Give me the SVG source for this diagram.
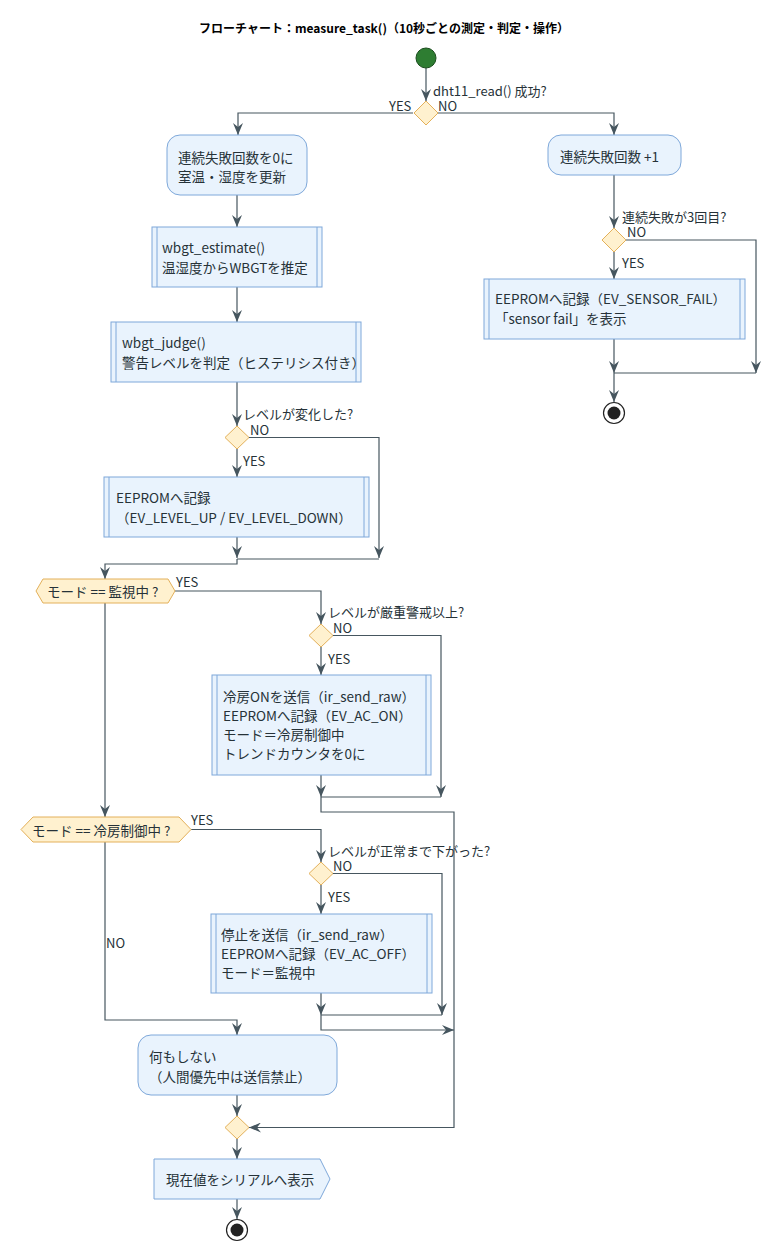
<svg xmlns="http://www.w3.org/2000/svg" width="780" height="1251" viewBox="0 0 780 1251">
<style>
text{font-family:"Noto Sans CJK JP","Noto Sans",sans-serif;font-size:13.5px;fill:#263238}
.t{font-size:12px;font-weight:bold;fill:#000}
.lbl{font-size:13px}
.box{fill:#E9F3FD;stroke:#7EA8DA;stroke-width:1}
.in{stroke:#7EA8DA;stroke-width:1}
.dia{fill:#FFF1CF;stroke:#E3B05A;stroke-width:1}
.c{fill:none;stroke:#46565F;stroke-width:1.2}
.a{fill:none;stroke:#46565F;stroke-width:1.2;marker-end:url(#ah)}
</style>
<defs>
<marker id="ah" viewBox="0 0 12 10" refX="12" refY="5" markerWidth="12" markerHeight="10" markerUnits="userSpaceOnUse" orient="auto">
<path d="M0,0 L12,5 L0,10 L4,5 Z" fill="#46565F"/>
</marker>
</defs>
<text class="t" x="384" y="33" text-anchor="middle">フローチャート：measure_task()（10秒ごとの測定・判定・操作）</text>

<g id="connectors">
<path class="a" d="M426,68 V101"/>
<path class="a" d="M413,113 H238 V135"/>
<path class="a" d="M438,113 H614 V135"/>
<path class="a" d="M237,195 V227"/>
<path class="a" d="M237,287 V322"/>
<path class="a" d="M237,382 V426"/>
<path class="a" d="M237,449 V477"/>
<path class="a" d="M249,437.5 H379 V558"/>
<path class="a" d="M237,537 V558"/>
<path class="c" d="M379,559 H237"/>
<path class="a" d="M237,559 V564 H105 V579"/>
<path class="a" d="M175,591 H321 V624"/>
<path class="a" d="M321,647 V675"/>
<path class="a" d="M333,635.5 H441 V797"/>
<path class="a" d="M321,775 V797"/>
<path class="c" d="M441,797 H321"/>
<path class="a" d="M321,797 V812 H454 V1127.5 H249"/>
<path class="a" d="M105,603 V817"/>
<path class="a" d="M191,829.5 H321 V862"/>
<path class="a" d="M321,885 V914"/>
<path class="a" d="M333,873.5 H442 V1015"/>
<path class="a" d="M321,993 V1015"/>
<path class="c" d="M442,1015 H321"/>
<path class="a" d="M321,1015 V1030 H454"/>
<path class="a" d="M105,842 V1020 H237 V1035"/>
<path class="a" d="M237,1095 V1116"/>
<path class="a" d="M237,1139 V1159"/>
<path class="a" d="M237,1199 V1219"/>
<path class="a" d="M614,175 V228"/>
<path class="a" d="M614,252 V279"/>
<path class="a" d="M626,240 H756 V373"/>
<path class="a" d="M614,339 V373"/>
<path class="c" d="M756,373 H614"/>
<path class="a" d="M614,373 V402"/>
<text class="lbl" x="433" y="96">dht11_read() 成功?</text>
<text class="lbl" x="389" y="111">YES</text>
<text class="lbl" x="438" y="111">NO</text>
<text class="lbl" x="243" y="419">レベルが変化した?</text>
<text class="lbl" x="250" y="435">NO</text>
<text class="lbl" x="243" y="466">YES</text>
<text class="lbl" x="176" y="587">YES</text>
<text class="lbl" x="328" y="617">レベルが厳重警戒以上?</text>
<text class="lbl" x="333" y="633">NO</text>
<text class="lbl" x="328" y="664">YES</text>
<text class="lbl" x="191" y="825">YES</text>
<text class="lbl" x="328" y="856">レベルが正常まで下がった?</text>
<text class="lbl" x="333" y="871">NO</text>
<text class="lbl" x="328" y="902">YES</text>
<text class="lbl" x="106" y="948">NO</text>
<text class="lbl" x="622" y="222">連続失敗が3回目?</text>
<text class="lbl" x="627" y="237">NO</text>
<text class="lbl" x="622" y="268">YES</text>
</g>

<g id="start"><circle cx="426" cy="58" r="10" fill="#2E7D32" stroke="#1B4D1E" stroke-width="1"/></g>
<g id="d1"><polygon class="dia" points="426,101 438,113 426,125 414,113"/></g>
<g id="box1"><rect class="box" x="167" y="135" width="140" height="60" rx="13"/>
<text x="178" y="163">連続失敗回数を0に</text><text x="178" y="182">室温・湿度を更新</text></g>
<g id="box_fail"><rect class="box" x="548" y="135" width="133" height="40" rx="13"/>
<text x="560" y="162">連続失敗回数 +1</text></g>
<g id="box2"><rect class="box" x="152" y="227" width="170" height="60"/>
<line class="in" x1="157" y1="227" x2="157" y2="287"/><line class="in" x1="317" y1="227" x2="317" y2="287"/>
<text x="162" y="253">wbgt_estimate()</text><text x="162" y="273">温湿度からWBGTを推定</text></g>
<g id="box3"><rect class="box" x="111" y="322" width="250" height="60"/>
<line class="in" x1="116" y1="322" x2="116" y2="382"/><line class="in" x1="356" y1="322" x2="356" y2="382"/>
<text x="122" y="348">wbgt_judge()</text><text x="122" y="368">警告レベルを判定（ヒステリシス付き）</text></g>
<g id="d2"><polygon class="dia" points="237,426 249,437.5 237,449 225,437.5"/></g>
<g id="box4"><rect class="box" x="104" y="477" width="265" height="60"/>
<line class="in" x1="109" y1="477" x2="109" y2="537"/><line class="in" x1="364" y1="477" x2="364" y2="537"/>
<text x="116" y="503">EEPROMへ記録</text><text x="116" y="523">（EV_LEVEL_UP / EV_LEVEL_DOWN）</text></g>
<g id="hex1"><polygon class="dia" points="36,591 43,579 168,579 175,591 168,603 43,603"/>
<text x="47" y="597">モード == 監視中 ?</text></g>
<g id="d3"><polygon class="dia" points="321,624 333,635.5 321,647 309,635.5"/></g>
<g id="box5"><rect class="box" x="212" y="675" width="219" height="100"/>
<line class="in" x1="217" y1="675" x2="217" y2="775"/><line class="in" x1="426" y1="675" x2="426" y2="775"/>
<text x="223" y="702">冷房ONを送信（ir_send_raw）</text><text x="223" y="721">EEPROMへ記録（EV_AC_ON）</text>
<text x="223" y="740">モード＝冷房制御中</text><text x="223" y="759">トレンドカウンタを0に</text></g>
<g id="hex2"><polygon class="dia" points="21,829.5 33,817 179,817 191,829.5 179,842 33,842"/>
<text x="32" y="836">モード == 冷房制御中 ?</text></g>
<g id="d4"><polygon class="dia" points="321,862 333,873.5 321,885 309,873.5"/></g>
<g id="box6"><rect class="box" x="211" y="914" width="221" height="79"/>
<line class="in" x1="216" y1="914" x2="216" y2="993"/><line class="in" x1="427" y1="914" x2="427" y2="993"/>
<text x="221" y="940">停止を送信（ir_send_raw）</text><text x="221" y="959">EEPROMへ記録（EV_AC_OFF）</text>
<text x="221" y="978">モード＝監視中</text></g>
<g id="box_nothing"><rect class="box" x="138" y="1035" width="199" height="60" rx="13"/>
<text x="149" y="1062">何もしない</text><text x="149" y="1082">（人間優先中は送信禁止）</text></g>
<g id="d5"><polygon class="dia" points="237,1116 249,1127.5 237,1139 225,1127.5"/></g>
<g id="box_serial"><polygon class="box" points="154,1159 320,1159 330,1179 320,1199 154,1199"/>
<text x="166" y="1185">現在値をシリアルへ表示</text></g>
<g id="end1"><circle cx="237" cy="1230" r="10.5" fill="#fff" stroke="#222" stroke-width="1.2"/><circle cx="237" cy="1230" r="6.5" fill="#222"/></g>
<g id="d6"><polygon class="dia" points="614,228 626,240 614,252 602,240"/></g>
<g id="box7"><rect class="box" x="484" y="279" width="261" height="60"/>
<line class="in" x1="489" y1="279" x2="489" y2="339"/><line class="in" x1="740" y1="279" x2="740" y2="339"/>
<text x="495" y="304">EEPROMへ記録（EV_SENSOR_FAIL）</text><text x="495" y="324">「sensor fail」を表示</text></g>
<g id="end2"><circle cx="614" cy="413" r="10.5" fill="#fff" stroke="#222" stroke-width="1.2"/><circle cx="614" cy="413" r="6.5" fill="#222"/></g>
</svg>
